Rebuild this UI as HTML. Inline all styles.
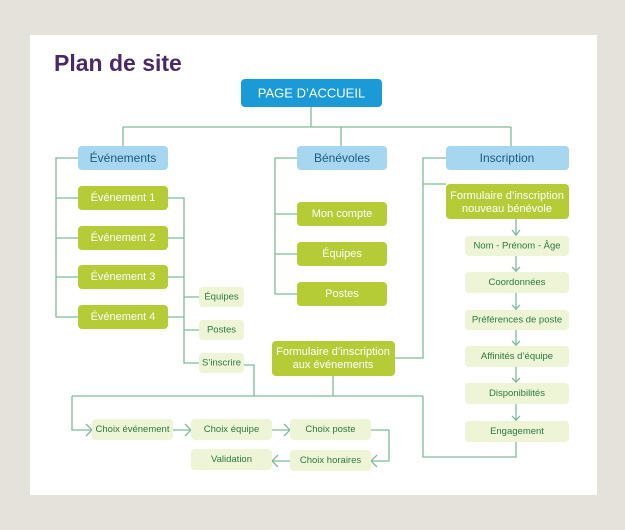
<!DOCTYPE html>
<html><head><meta charset="utf-8"><style>
html,body{margin:0;padding:0;background:#e5e1db;}
svg{display:block;font-family:"Liberation Sans",sans-serif;}
.t{text-anchor:middle;dominant-baseline:central;}
</style></head><body>
<svg width="625" height="530" viewBox="0 0 625 530" xmlns="http://www.w3.org/2000/svg">
<rect x="0" y="0" width="625" height="530" fill="#e5e1db"/>
<rect x="30" y="35" width="567" height="460" fill="#fff"/>
<text x="54" y="71" font-size="23" font-weight="bold" fill="#4a2a66">Plan de site</text>
<g fill="none" stroke="#7fbc98" stroke-width="1.3">
<path d="M311 107V127M123 127H511M123 127V146M341 127V146M511 127V146"/>
<path d="M78 158H56V317H78M56 198H78M56 238H78M56 277H78"/>
<path d="M168 198H184V363H199M168 238H184M168 277H184M168 317H184M184 297H199M184 330H199"/>
<path d="M297 158H275V294H297M275 214H297M275 254H297"/>
<path d="M446 158H423V358H395M423 184H446"/>
<path d="M244 365H254V396M72 396H423M333 376V396M72 396V430H92"/>
<path d="M423 396V457H516V442"/>
<path d="M173 430H191M272 430H290M371 430H389V461H371M290 461H272"/>
<path d="M516 219V236M516 256V272M516 293V310M516 330V346M516 367V383M516 404V421"/>
<path d="M86 424L92 430L86 436M185 424L191 430L185 436M284 424L290 430L284 436M377 455L371 461L377 467M278 455L272 461L278 467"/>
<path d="M512 230L516 235L520 230M512 267L516 271L520 267M512 305L516 309L520 305M512 341L516 345L520 341M512 378L516 382L520 378M512 416L516 420L520 416"/>
</g>
<g>
<rect x="241" y="79" width="141" height="28" rx="4" fill="#1a9ad6"/>
<text class="t" x="311.5" y="93" font-size="13" fill="#fff">PAGE D’ACCUEIL</text>
<g fill="#a6d6f0"><rect x="78" y="146" width="90" height="24" rx="4"/><rect x="297" y="146" width="90" height="24" rx="4"/><rect x="446" y="146" width="123" height="24" rx="4"/></g>
<g font-size="12" fill="#1d5a7c"><text class="t" x="123" y="158">Événements</text><text class="t" x="342" y="158">Bénévoles</text><text class="t" x="507" y="158">Inscription</text></g>
<g fill="#b5cc37">
<rect x="78" y="186" width="90" height="24" rx="4"/><rect x="78" y="226" width="90" height="24" rx="4"/><rect x="78" y="265" width="90" height="24" rx="4"/><rect x="78" y="305" width="90" height="24" rx="4"/>
<rect x="297" y="202" width="90" height="24" rx="4"/><rect x="297" y="242" width="90" height="24" rx="4"/><rect x="297" y="282" width="90" height="24" rx="4"/>
<rect x="272" y="341" width="123" height="35" rx="4"/><rect x="446" y="184" width="123" height="35" rx="4"/>
</g>
<g font-size="11" fill="#fff">
<text class="t" x="123" y="198">Événement 1</text><text class="t" x="123" y="238">Événement 2</text><text class="t" x="123" y="277">Événement 3</text><text class="t" x="123" y="317">Événement 4</text>
<text class="t" x="342" y="214">Mon compte</text><text class="t" x="342" y="254">Équipes</text><text class="t" x="342" y="294">Postes</text>
<text class="t" x="333" y="352">Formulaire d’inscription</text><text class="t" x="333" y="365">aux événements</text>
<text class="t" x="507" y="196">Formulaire d’inscription</text><text class="t" x="507" y="209">nouveau bénévole</text>
</g>
<g fill="#eef4d6">
<rect x="199" y="287" width="45" height="20" rx="4"/><rect x="199" y="320" width="45" height="20" rx="4"/><rect x="199" y="353" width="45" height="20" rx="4"/>
<rect x="465" y="236" width="104" height="20" rx="4"/><rect x="465" y="272" width="104" height="21" rx="4"/><rect x="465" y="310" width="104" height="20" rx="4"/><rect x="465" y="346" width="104" height="21" rx="4"/><rect x="465" y="383" width="104" height="21" rx="4"/><rect x="465" y="421" width="104" height="21" rx="4"/>
<rect x="92" y="419" width="81" height="21" rx="4"/><rect x="191" y="419" width="81" height="21" rx="4"/><rect x="290" y="419" width="81" height="21" rx="4"/><rect x="290" y="450" width="81" height="21" rx="4"/><rect x="191" y="449" width="81" height="21" rx="4"/>
</g>
<g font-size="9.5" fill="#2a7a3e">
<text class="t" x="221.5" y="297">Équipes</text><text class="t" x="221.5" y="330">Postes</text><text class="t" x="221.5" y="363">S’inscrire</text>
<text class="t" x="517" y="246">Nom - Prénom - Âge</text><text class="t" x="517" y="282.5">Coordonnées</text><text class="t" x="517" y="320">Préférences de poste</text><text class="t" x="517" y="356.5">Affinités d’équipe</text><text class="t" x="517" y="393.5">Disponibilités</text><text class="t" x="517" y="431.5">Engagement</text>
<text class="t" x="132.5" y="429.5">Choix événement</text><text class="t" x="231.5" y="429.5">Choix équipe</text><text class="t" x="330.5" y="429.5">Choix poste</text><text class="t" x="330.5" y="460.5">Choix horaires</text><text class="t" x="231.5" y="459.5">Validation</text>
</g>
</g>
</svg>
</body></html>
